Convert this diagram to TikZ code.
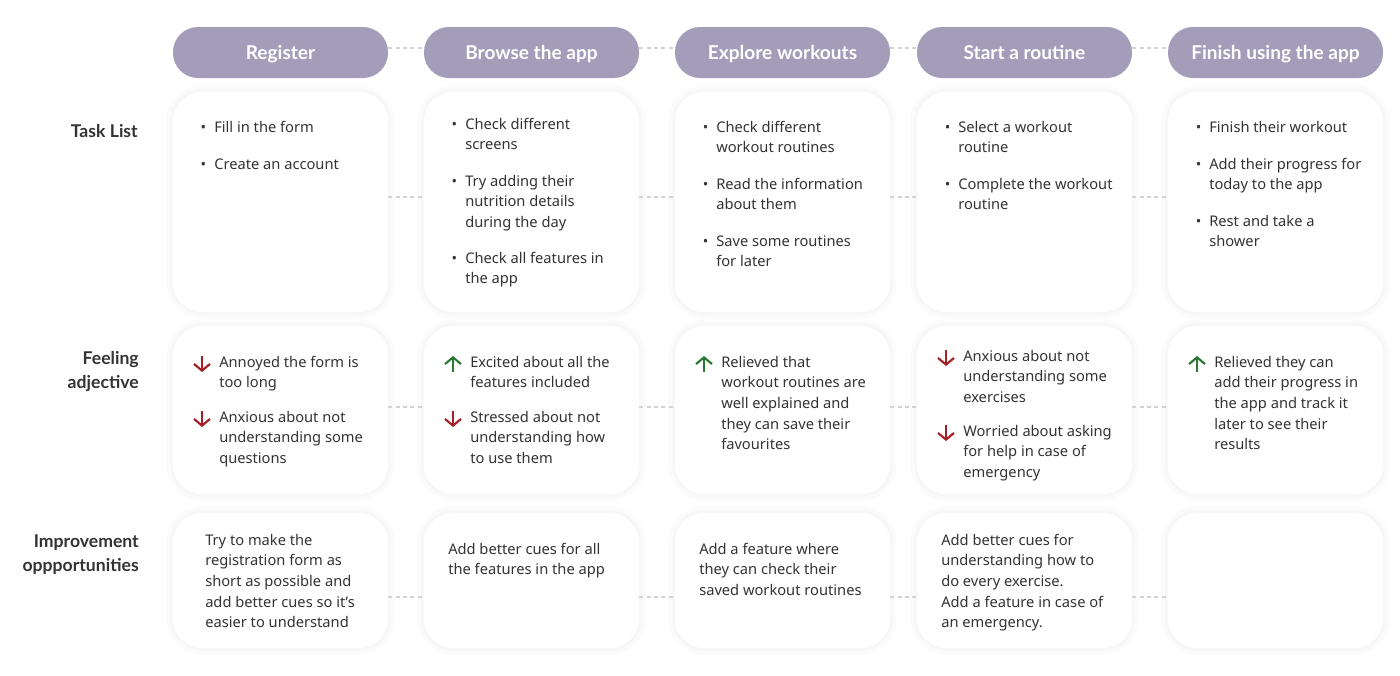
\documentclass[tikz,border=0pt]{standalone}
\usepackage{fontspec}
\setmainfont{Noto Sans}
\newfontfamily\headfont{Lato}
\usetikzlibrary{positioning, arrows.meta}

\definecolor{pillcol}{RGB}{163,157,186}
\definecolor{ink}{RGB}{51,51,51}
\definecolor{dashcol}{RGB}{210,210,210}
\definecolor{downcol}{RGB}{165,32,36}
\definecolor{upcol}{RGB}{40,120,50}

\tikzset{
	pill/.style={fill=pillcol, rounded corners=18.75pt, minimum width=161.25pt, minimum height=38.25pt, inner sep=0, text height=10.3pt, text depth=0pt, text=white, font=\headfont\bfseries\fontsize{14.3}{17}\selectfont},
	card/.style={fill=white, rounded corners=22pt, minimum width=161.25pt, inner sep=0,
		preaction={draw=black!1.5, line width=10pt},
		preaction={draw=black!3, line width=4.5pt}},
	link/.style={draw=dashcol, line width=1.5pt, dash pattern=on 3pt off 2.5pt},
	item/.style={font=\fontsize{11}{15.45}\selectfont, text=ink, align=left, anchor=north west, inner sep=0},
	dotmark/.style={font=\fontsize{11}{15.45}\selectfont, text=ink, anchor=base, inner sep=0},
	rowlabel/.style={font=\headfont\bfseries\fontsize{13.2}{18}\selectfont, text=ink, align=right, anchor=north east, inner sep=0},
	downmark/.style={draw=downcol, line width=1.6pt, -{Straight Barb[length=5pt, width=12pt]}},
	upmark/.style={draw=upcol, line width=1.6pt, -{Straight Barb[length=5pt, width=12pt]}}
}

% bullet item: x, y (centre of first line), name, text
\newcommand\taskitem[4]{
	\node[dotmark] (#3b) at (#1-10.5, #2+5) {•};
	\node[item] (#3) at (#1, #2-9.4) {\strut #4};
}
% mood item: x, y, up/down, name, text
\newcommand\mooditem[5]{
	\draw[#3mark] (#1-17, #2+2+8*\csname sgn#3\endcsname) -- (#1-17, #2+2-8*\csname sgn#3\endcsname);
	\node[item] (#4) at (#1, #2-9.4) {\strut #5};
}
\def\sgnup{1}
\def\sgndown{-1}

\begin{document}
\begin{tikzpicture}[x=0.75pt, y=-0.75pt]
	\useasboundingbox[fill=white] (0,0) rectangle (1400,675);

	%// stage headers and cards
	\foreach \n/\lx/\name in {1/173/Register, 2/424/Browse the app, 3/675/Explore workouts, 4/917/Start a routine, 5/1168/Finish using the app}
	{
		\node[pill] (p\n) at (\lx+107.5, 52.5) {\name};
		\node[card, minimum height=165pt] (t\n) at (\lx+107.5, 202) {};
		\node[card, minimum height=126pt] (f\n) at (\lx+107.5, 410) {};
		\node[card, minimum height=101.25pt] (m\n) at (\lx+107.5, 580.5) {};
	}

	%// dotted links between stages
	\foreach \a/\b in {1/2, 2/3, 3/4, 4/5}
	{
		\draw[link] ([yshift=3.75pt]p\a.east) -- ([yshift=3.75pt]p\b.west);
		\draw[link] ([yshift=3.75pt]t\a.east) -- ([yshift=3.75pt]t\b.west);
		\draw[link] ([yshift=2.25pt]f\a.east) -- ([yshift=2.25pt]f\b.west);
		\draw[link] ([yshift=-12.4pt]m\a.east) -- ([yshift=-12.4pt]m\b.west);
	}

	%// row labels
	\node[rowlabel] (lTask) at (138, 120) {\strut Task List};
	\node[rowlabel] (lFeel) at (139, 347) {\strut Feeling\\adjective};
	\node[rowlabel] (lImpr) at (139, 530) {\strut Improvement\\oppportunities};

	%// task list
	\taskitem{214}{127}{t1a}{Fill in the form}
	\taskitem{214}{164}{t1c}{Create an account}

	\taskitem{465}{124}{t2a}{Check different\\screens}
	\taskitem{465}{181}{t2c}{Try adding their\\nutrition details\\during the day}
	\taskitem{465}{258}{t2d}{Check all features in\\the app}

	\taskitem{716}{127}{t3a}{Check different\\workout routines}
	\taskitem{716}{184}{t3c}{Read the information\\about them}
	\taskitem{716}{241}{t3d}{Save some routines\\for later}

	\taskitem{958}{127}{t4a}{Select a workout\\routine}
	\taskitem{958}{184}{t4c}{Complete the workout\\routine}

	\taskitem{1209}{127}{t5a}{Finish their workout}
	\taskitem{1209}{164}{t5c}{Add their progress for\\today to the app}
	\taskitem{1209}{221}{t5d}{Rest and take a\\shower}

	%// feelings
	\mooditem{219}{362}{down}{f1a}{Annoyed the form is\\too long}
	\mooditem{219}{417}{down}{f1c}{Anxious about not\\understanding some\\questions}

	\mooditem{470}{362}{up}{f2a}{Excited about all the\\features included}
	\mooditem{470}{417}{down}{f2c}{Stressed about not\\understanding how\\to use them}

	\mooditem{721}{362}{up}{f3a}{Relieved that\\workout routines are\\well explained and\\they can save their\\favourites}

	\mooditem{963}{356}{down}{f4a}{Anxious about not\\understanding some\\exercises}
	\mooditem{963}{431}{down}{f4c}{Worried about asking\\for help in case of\\emergency}

	\mooditem{1214}{362}{up}{f5a}{Relieved they can\\add their progress in\\the app and track it\\later to see their\\results}

	%// improvement opportunities
	\node[item] (m1a) at (205, 530.6) {\strut Try to make the\\registration form as\\short as possible and\\add better cues so it’s\\easier to understand};
	\node[item] (m2a) at (448, 539.6) {\strut Add better cues for all\\the features in the app};
	\node[item] (m3a) at (699, 539.6) {\strut Add a feature where\\they can check their\\saved workout routines};
	\node[item] (m4a) at (941, 530.6) {\strut Add better cues for\\understanding how to\\do every exercise.\\Add a feature in case of\\an emergency.};
\end{tikzpicture}
\end{document}
